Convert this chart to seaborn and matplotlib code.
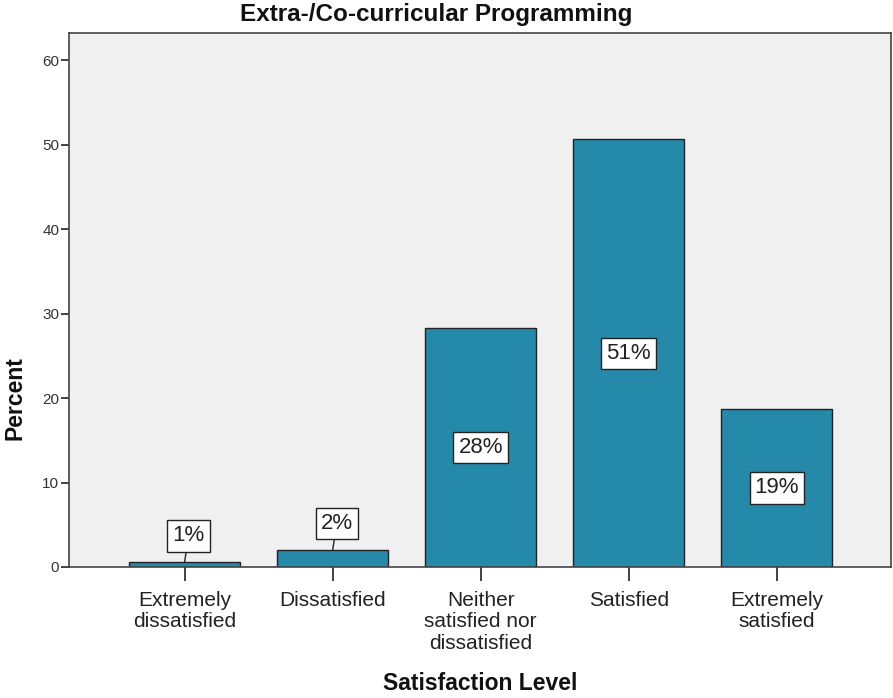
import matplotlib
matplotlib.use("Agg")
import matplotlib.pyplot as plt
import seaborn as sns
import pandas as pd

# values
categories = ["Extremely\ndissatisfied", "Dissatisfied", "Neither\nsatisfied nor\ndissatisfied",
              "Satisfied", "Extremely\nsatisfied"]
percent = [0.55, 2.0, 28.3, 50.6, 18.7]
y_ticks = [0, 10, 20, 30, 40, 50, 60]

bar_color = "#2589AA"
bg_color = "#F0F0F0"

sns.set_style("white")
plt.rcParams["font.family"] = ["Liberation Sans", "DejaVu Sans"]

df = pd.DataFrame({"level": categories, "percent": percent})

fig = plt.figure(figsize=(8.93, 6.98), dpi=100)
ax = fig.add_axes([69 / 893, 131 / 698, 822 / 893, 534 / 698])
ax.set_facecolor(bg_color)

sns.barplot(data=df, x="level", y="percent", color=bar_color, saturation=1,
            width=0.75, edgecolor="#222222", linewidth=1, ax=ax)

ax.set_xlim(-0.78, 4.77)
ax.set_ylim(0, 63.2)
ax.set_yticks(y_ticks)
ax.tick_params(axis="y", left=True, length=6, width=1.2, color="#222222",
               labelsize=11, labelcolor="#333333", pad=1)
ax.tick_params(axis="x", bottom=True, length=10, width=1.2, color="#222222",
               labelsize=15, labelcolor="#222222", pad=7)
for lbl in ax.get_xticklabels():
    lbl.set_linespacing(1.18)

for side in ["left", "bottom", "top", "right"]:
    ax.spines[side].set_color("#444444")
    ax.spines[side].set_linewidth(1.2)

box = dict(boxstyle="square,pad=0.23", facecolor="white", edgecolor="#222222", linewidth=1)
for i, v in enumerate(percent):
    txt = f"{round(v)}%"
    if v < 5:
        ax.annotate(txt, xy=(i, v), xytext=(3, 19), textcoords="offset points",
                    ha="center", va="center", fontsize=16, color="#222222", bbox=box,
                    arrowprops=dict(arrowstyle="-", color="#222222", lw=1, shrinkA=0, shrinkB=0))
    else:
        ax.text(i, v / 2, txt, ha="center", va="center", fontsize=16, color="#222222", bbox=box)

ax.set_xlabel("")
ax.set_ylabel("")
fig.text(436 / 893, 683 / 698, "Extra-/Co-curricular Programming", ha="center", va="center",
         fontsize=17.5, fontweight="bold", color="#111111")
fig.text(480 / 893, 15 / 698, "Satisfaction Level", ha="center", va="center",
         fontsize=16.5, fontweight="bold", color="#111111")
fig.text(15 / 893, 300 / 698, "Percent", ha="center", va="center", rotation=90,
         fontsize=16.5, fontweight="bold", color="#111111")

fig.savefig("out.png", dpi=100)
